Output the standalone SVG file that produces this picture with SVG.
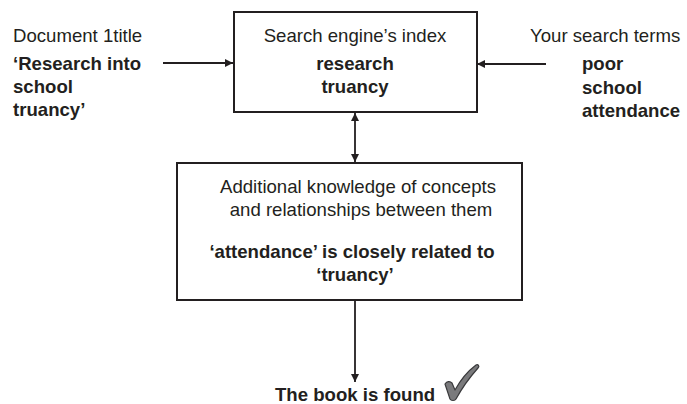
<svg xmlns="http://www.w3.org/2000/svg" width="687" height="404" viewBox="0 0 687 404">
<style>
text{font-family:"Liberation Sans",Arial,sans-serif;font-size:18.6px;fill:#231f20}
.b{font-weight:bold}
.box{fill:#fff;stroke:#231f20;stroke-width:2}
.con{stroke:#231f20;stroke-width:1.8;fill:none}
</style>
<defs>
<marker id="ah" viewBox="0 0 10 10" refX="10" refY="5" markerWidth="10" markerHeight="8" markerUnits="userSpaceOnUse" orient="auto-start-reverse">
<path d="M0,0 L10,5 L0,10 Z" fill="#231f20"/>
</marker>
</defs>
<rect width="687" height="404" fill="#fff"/>
<g id="connectors">
<line class="con" x1="163" y1="63" x2="233" y2="63" marker-end="url(#ah)"/>
<line class="con" x1="546" y1="64" x2="477" y2="64" marker-end="url(#ah)"/>
<line class="con" x1="355" y1="113" x2="355" y2="162" marker-start="url(#ah)" marker-end="url(#ah)"/>
<line class="con" x1="355" y1="300" x2="355" y2="382" marker-end="url(#ah)"/>
</g>
<g id="doc-title">
<text x="13" y="42">Document 1title</text>
<text class="b" x="13" y="70">‘Research into</text>
<text class="b" x="13" y="93">school</text>
<text class="b" x="13" y="116">truancy’</text>
</g>
<g id="search-terms">
<text x="530" y="42">Your search terms</text>
<text class="b" x="582" y="70">poor</text>
<text class="b" x="582" y="94">school</text>
<text class="b" x="582" y="117">attendance</text>
</g>
<g id="index">
<rect class="box" x="234" y="12" width="243" height="100"/>
<text x="355" y="42" text-anchor="middle">Search engine’s index</text>
<text class="b" x="355" y="70" text-anchor="middle">research</text>
<text class="b" x="355" y="93" text-anchor="middle">truancy</text>
</g>
<g id="knowledge">
<rect class="box" x="177" y="163" width="345" height="137"/>
<text x="358" y="193" text-anchor="middle">Additional knowledge of concepts</text>
<text x="361" y="216" text-anchor="middle">and relationships between them</text>
<text class="b" x="352" y="258" text-anchor="middle">‘attendance’ is closely related to</text>
<text class="b" x="355" y="281" text-anchor="middle">‘truancy’</text>
</g>
<g id="found">
<text class="b" x="275" y="401">The book is found</text>
<path d="M445,384 C447,381 450,381 452,383 L455,390 C461,379 468,371 476,365 C478,364 480,366 478,368 C470,377 462,388 456,399 C455,401 451,401 450,399 Z" fill="#7a7a7c" stroke="#3a3a3c" stroke-width="1.2" stroke-linejoin="round"/>
</g>
</svg>
